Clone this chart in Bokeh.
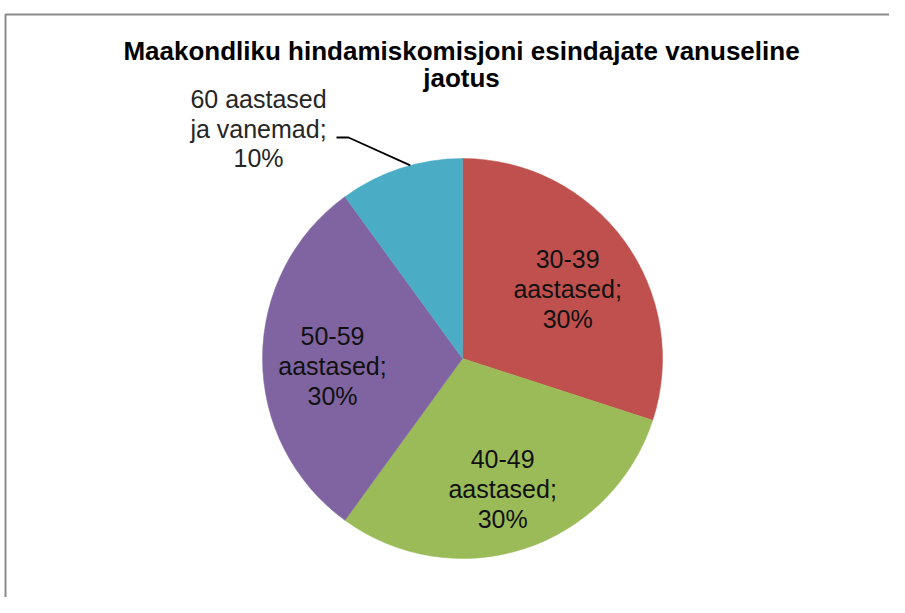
import math
from bokeh.plotting import figure
from bokeh.models import Range1d, ColumnDataSource
from bokeh.core.properties import value
from bokeh.embed import file_html
from bokeh.resources import INLINE

title_lines = ["Maakondliku hindamiskomisjoni esindajate vanuseline", "jaotus"]
categories = ["30-39 aastased", "40-49 aastased", "50-59 aastased", "60 aastased ja vanemad"]
label_lines = [["30-39", "aastased;"], ["40-49", "aastased;"], ["50-59", "aastased;"], ["60 aastased", "ja vanemad;"]]
shares = [30, 30, 30, 10]
colors = ["#C0504D", "#9BBB59", "#8064A2", "#4BACC6"]

W, H = 889, 597
p = figure(width=W, height=H, output_backend="svg", toolbar_location=None,
           x_range=Range1d(0, W), y_range=Range1d(-H, 0),
           min_border=0, outline_line_color=None)
p.axis.visible = False
p.grid.visible = False
p.background_fill_color = "white"
p.border_fill_color = "white"

# chart frame
p.line(x=[5, 5, 905], y=[-640, -14, -14], line_color="#8a8a8a", line_width=2)

cx, cy, R = 462, -358, 200
total = sum(shares)
starts, ends, mids = [], [], []
a = math.pi / 2
for s in shares:
    sweep = 2 * math.pi * s / total
    starts.append(a)
    ends.append(a - sweep)
    mids.append(a - sweep / 2)
    a -= sweep

src = ColumnDataSource(dict(start=starts, end=ends, color=colors, cat=categories))
p.wedge(x=cx, y=cy, radius=R, start_angle="start", end_angle="end", direction="clock",
        fill_color="color", line_color="color", line_width=0.5, source=src)

# title
p.text(x=[461, 461], y=[-50, -77], text=title_lines, text_font=value("Liberation Sans"),
       text_font_style="bold", text_font_size="26px", text_align="center",
       text_baseline="middle", text_color="#000000")

# inside labels
lx, ly, lt = [], [], []
for i in range(3):
    r = 0.65 * R
    x = cx + r * math.cos(mids[i])
    y = cy + r * math.sin(mids[i]) - 7
    full = label_lines[i] + ["%d%%" % shares[i]]
    for j, t in enumerate(full):
        lx.append(x)
        ly.append(y + (1 - j) * 30)
        lt.append(t)
p.text(x=lx, y=ly, text=lt, text_font=value("Liberation Sans"), text_font_size="25px",
       text_align="center", text_baseline="middle", text_color="#111111")

# outside label for the small slice
ox, oy = 258, -128
full = label_lines[3] + ["%d%%" % shares[3]]
p.text(x=[ox] * 3, y=[oy + 30, oy, oy - 29], text=full, text_font=value("Liberation Sans"),
       text_font_size="25px", text_align="center", text_baseline="middle", text_color="#262626")

# leader line to the small slice
ex = cx + R * math.cos(mids[3] - 0.05)
ey = cy + R * math.sin(mids[3] - 0.05)
p.line(x=[336, 348, ex], y=[-137, -137, ey], line_color="#000000", line_width=1.8)

open("out.html", "w").write(file_html(p, INLINE))
